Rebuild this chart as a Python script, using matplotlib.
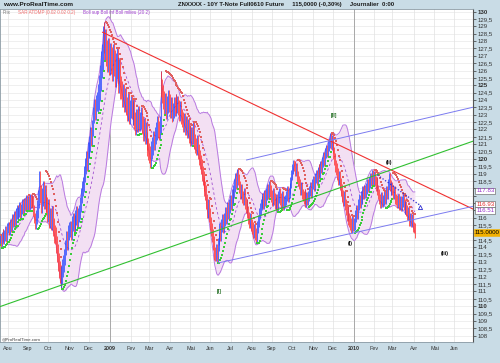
import numpy as np
import pandas as pd
import matplotlib
matplotlib.use("Agg")
import matplotlib.pyplot as plt
from matplotlib.transforms import blended_transform_factory

plt.rcParams['font.family'] = ['Liberation Sans', 'DejaVu Sans']

start_day = "2008-07-21"
axis_end = "2010-07-30"

# daily closes, one row per week (Mon..Fri)
closes = [
    114.5, 114.3, 114.7, 114.9, 114.6,
    114.8, 115.1, 114.7, 115.3, 115.4,
    115.2, 115.6, 115.4, 115.9, 115.7,
    116.1, 115.8, 116.3, 116.5, 116.2,
    116.4, 116.7, 116.3, 116.6, 116.9,
    116.6, 117.0, 116.8, 117.2, 116.9,
    117.1, 116.8, 117.3, 117.0, 117.2,
    117.1, 116.5, 116.0, 115.6, 116.2,
    116.6, 117.3, 118.6, 117.6, 116.9,
    117.4, 117.9, 117.2, 117.6, 117.0,
    116.8, 116.3, 116.7, 115.9, 116.1,
    115.8, 116.2, 115.4, 114.9, 114.8,
    114.2, 113.6, 113.0, 112.5, 112.2,
    111.8, 112.1, 112.6, 112.9, 113.3,
    114.0, 114.6, 114.3, 115.0, 115.2,
    115.3, 115.0, 115.6, 115.8, 115.5,
    115.7, 116.0, 116.3, 115.8, 116.2,
    116.4, 116.9, 117.5, 118.0, 118.3,
    119.0, 119.5, 120.0, 119.7, 120.6,
    120.6, 121.0, 121.6, 121.4, 122.1,
    123.0, 123.5, 123.2, 123.8, 124.0,
    124.2, 124.8, 125.5, 126.4, 126.9,
    128.1, 128.4, 127.6, 127.9, 127.2,
    126.8, 127.3, 126.6, 127.0, 126.7,
    126.2, 126.9, 126.5, 125.8, 126.3,
    126.6, 126.0, 125.4, 125.9, 125.0,
    124.7, 124.1, 124.5, 123.8, 124.2,
    123.6, 123.2, 123.9, 123.0, 123.4,
    123.7, 123.3, 122.9, 123.5, 122.6,
    122.2, 122.8, 122.4, 123.0, 122.5,
    122.6, 122.9, 122.3, 121.8, 122.2,
    121.6, 121.9, 121.2, 120.8, 120.5,
    120.3, 120.0, 120.6, 120.9, 121.3,
    121.2, 121.6, 121.9, 122.3, 122.0,
    121.9, 122.3, 125.4, 124.8, 124.4,
    124.0, 123.6, 123.9, 123.3, 123.7,
    124.1, 123.8, 123.4, 123.6, 123.1,
    123.3, 123.7, 123.4, 123.9, 123.6,
    123.8, 123.5, 123.1, 123.4, 122.9,
    122.7, 122.3, 122.6, 122.1, 122.4,
    121.9, 122.2, 121.6, 121.8, 121.4,
    121.7, 121.5, 122.0, 121.2, 120.9,
    120.8, 121.1, 120.5, 120.1, 119.8,
    119.5, 119.0, 118.7, 118.3, 118.0,
    117.7, 117.1, 116.5, 116.8, 116.2,
    115.6, 115.2, 114.8, 114.3, 113.6,
    113.5, 113.8, 113.4, 114.2, 114.6,
    115.2, 114.9, 115.5, 115.8, 115.4,
    115.9, 116.3, 116.0, 116.6, 116.4,
    116.8, 117.1, 117.0, 117.5, 117.4,
    117.8, 118.2, 118.6, 118.4, 118.9,
    118.6, 118.1, 117.7, 117.9, 117.4,
    117.3, 117.6, 117.0, 116.7, 116.9,
    116.4, 116.0, 115.7, 115.9, 115.5,
    115.3, 115.0, 115.2, 114.9, 114.7,
    115.4, 115.8, 116.3, 116.6, 116.9,
    117.1, 117.3, 117.0, 117.5, 117.2,
    117.6, 117.9, 117.7, 118.1, 117.8,
    117.5, 117.2, 117.6, 117.3, 117.0,
    116.9, 117.2, 116.8, 117.4, 117.6,
    117.3, 117.0, 117.4, 116.9, 117.1,
    117.2, 117.5, 117.8, 117.4, 117.7,
    118.0, 118.4, 118.9, 119.3, 119.6,
    119.5, 119.2, 119.4, 118.8, 118.5,
    118.3, 117.9, 118.1, 117.6, 117.5,
    117.3, 117.6, 117.1, 117.4, 117.2,
    117.5, 117.8, 118.1, 117.7, 118.3,
    118.5, 118.2, 118.7, 118.9, 118.6,
    119.1, 119.3, 119.0, 119.5, 119.4,
    119.8, 120.1, 119.9, 120.4, 120.6,
    120.5, 120.9, 121.1, 121.4, 121.0,
    121.2, 120.8, 120.4, 120.0, 119.5,
    119.3, 119.0, 118.6, 118.8, 118.3,
    117.9, 117.5, 117.2, 117.4, 116.9,
    116.6, 116.2, 116.4, 115.9, 115.8,
    115.6, 115.4, 115.7, 115.5, 115.6,
    116.1, 116.5, 116.3, 116.9, 117.2,
    117.0, 117.5, 117.3, 117.8, 117.6,
    117.9, 117.7, 118.0, 118.3, 118.1,
    118.4, 118.7, 118.5, 118.9, 118.6,
    118.8, 118.5, 118.2, 118.4, 117.9,
    117.6, 117.3, 117.0, 117.4, 117.1,
    117.2, 117.5, 117.3, 117.8, 117.6,
    118.3, 118.7, 118.2, 117.9, 118.1,
    117.9, 117.6, 117.8, 117.3, 117.2,
    117.0, 117.3, 116.9, 117.1, 116.8,
    117.1, 117.3, 116.9, 116.6, 116.8,
    116.5, 116.2, 116.4, 115.8, 116.0,
    115.7, 115.9, 115.4, 115.3, 115.0,
]

# how far bars poke out past open/close, one value per week (points)
bar_ext = [
    0.35, 0.35, 0.35, 0.35, 0.35, 0.35, 0.35, 0.35,
    0.6, 0.6, 0.6, 0.6, 0.6, 0.6,
    0.5, 0.5, 0.5, 0.5,
    0.55, 0.55, 0.55,
    0.9, 0.9, 0.9, 0.9, 0.9,
    0.6, 0.6, 0.6, 0.6, 0.6, 0.6, 0.6, 0.6,
    0.6, 0.6, 0.6,
    0.5, 0.5, 0.5, 0.5, 0.5, 0.5, 0.5, 0.5,
    0.45, 0.45, 0.45, 0.45, 0.45, 0.45,
    0.4, 0.4, 0.4, 0.4, 0.4, 0.4, 0.4, 0.4, 0.4, 0.4,
    0.35, 0.35, 0.35, 0.35, 0.35, 0.35, 0.35, 0.35, 0.35, 0.35,
    0.4, 0.4, 0.4, 0.4, 0.4, 0.4,
    0.35, 0.35, 0.35, 0.35, 0.35, 0.35, 0.35, 0.35, 0.35, 0.35, 0.35, 0.35,
]

# hand drawn lines: (date, price) pairs
red_line = [("2008-12-22", 128.6), ("2010-02-23", 119.33)]
green_line = [("2008-10-20", 111.41), ("2009-12-01", 117.87)]
chan_top = [("2009-07-24", 119.93), ("2009-12-01", 121.29)]
chan_bottom = [("2009-06-12", 112.94), ("2010-01-04", 115.0)]
blue_dots = [("2010-02-05", 118.91), ("2010-04-09", 116.88)]

wave_labels = [("[I]", "2009-06-15", 110.97, "#1d6b1d"),
               ("[II]", "2009-12-02", 122.92, "#1d6b1d"),
               ("(i)", "2009-12-28", 114.23, "black"),
               ("(ii)", "2010-02-23", 119.73, "black"),
               ("(iii)", "2010-05-18", 113.55, "black")]

# values printed at the right edge
boll_sup_last = 117.83
sar_last = 116.93
boll_mid_last = 116.51
# axis labels hidden behind those boxes
hidden_ticks = [118.0, 117.5, 117.0, 116.5, 115.0]

fr_months = ["Jan", "Fev", "Mar", "Avr", "Mai", "Jun", "Jul", "Aou", "Sep", "Oct", "Nov", "Dec"]

axis_days = pd.bdate_range(start_day, axis_end)
def pos(d):
    return axis_days.get_loc(pd.Timestamp(d))

close = np.array(closes)
n = len(close)
x = np.arange(n)
opn = np.r_[close[0], close[:-1]]
ext = np.repeat(bar_ext, 5)[:n]
high = np.maximum(opn, close) + ext
low = np.minimum(opn, close) - ext

# bollinger 20 / 2
s = pd.Series(close)
mid = s.rolling(20, min_periods=10).mean()
sd = s.rolling(20, min_periods=10).std(ddof=0)
bb_up = mid + 2 * sd
bb_dn = mid - 2 * sd

# parabolic SAR 0.02 / 0.02 / 0.2
def psar(hi, lo, step=0.02, amax=0.2):
    out = np.zeros(len(hi))
    trend = np.zeros(len(hi), bool)
    up = True
    af = step
    ep = hi[0]
    out[0] = lo[0]
    trend[0] = True
    for i in range(1, len(hi)):
        v = out[i - 1] + af * (ep - out[i - 1])
        if up:
            v = min(v, lo[i - 1], lo[max(i - 2, 0)])
            if lo[i] < v:
                up = False
                v = ep
                ep = lo[i]
                af = step
            elif hi[i] > ep:
                ep = hi[i]
                af = min(af + step, amax)
        else:
            v = max(v, hi[i - 1], hi[max(i - 2, 0)])
            if hi[i] > v:
                up = True
                v = ep
                ep = hi[i]
                af = step
            elif lo[i] < ep:
                ep = lo[i]
                af = min(af + step, amax)
        out[i] = v
        trend[i] = up
    return out, trend

sar, sar_up = psar(high, low)

fig = plt.figure(figsize=(5.0, 3.63), dpi=100, facecolor="#c9dce6")
ax = fig.add_axes([0.0, 20.7 / 363, 473.3 / 500, 333.3 / 363])
ax.set_facecolor("white")

# pixel layout of the time axis
i09, i10 = pos("2009-01-02"), pos("2010-01-04")
ppb = (355 - 111) / (i10 - i09)
x0 = i09 - 111 / ppb
ax.set_xlim(x0, x0 + 473.3 / ppb)
ax.set_ylim(107.55, 130.18)

yt = np.arange(108, 130.01, 0.5)
for v in yt:
    ax.axhline(v, color="#e9e9e9", lw=0.5, zorder=0)

month_starts = pd.date_range("2008-08-01", "2010-06-01", freq="MS")
mpos = [axis_days.searchsorted(m) for m in month_starts]
mlab = []
for m, p in zip(month_starts, mpos):
    if m.month == 1:
        mlab.append(str(m.year))
        ax.axvline(p, color="#a8a8a8", lw=0.7, zorder=0)
    else:
        mlab.append(fr_months[m.month - 1])
        ax.axvline(p, color="#e2e2e2", lw=0.5, zorder=0)

ax.fill_between(x, bb_dn, bb_up, color="#f3e0f3", lw=0, zorder=1)
ax.plot(x, bb_up, color="#b87ae0", lw=0.7, zorder=2)
ax.plot(x, bb_dn, color="#b87ae0", lw=0.7, zorder=2)
ax.plot(x, mid, color="#a050d0", lw=0.6, ls=(0, (3, 3)), zorder=2)

cols = np.where(close >= opn, "#2a48ff", "#ff3030")
ax.vlines(x, low, high, colors=cols, lw=0.55, zorder=3)

ax.scatter(x[sar_up], sar[sar_up], s=2.2, marker="s", color="#3ccc3c", lw=0, zorder=4)
ax.scatter(x[~sar_up], sar[~sar_up], s=2.2, marker="s", color="#e06060", lw=0, zorder=4)

xr = ax.get_xlim()[1]
(d1, p1), (d2, p2) = red_line
k = (p2 - p1) / (pos(d2) - pos(d1))
ax.plot([pos(d1), xr], [p1, p1 + k * (xr - pos(d1))], color="#f03030", lw=0.8, zorder=5)

(d1, p1), (d2, p2) = green_line
ax.axline((pos(d1), p1), (pos(d2), p2), color="#30c030", lw=0.8, zorder=5)

for line in (chan_top, chan_bottom):
    (d1, p1), (d2, p2) = line
    k = (p2 - p1) / (pos(d2) - pos(d1))
    ax.plot([pos(d1), xr], [p1, p1 + k * (xr - pos(d1))], color="#7b7bf0", lw=0.7, zorder=5)

(d1, p1), (d2, p2) = blue_dots
ax.plot([pos(d1), pos(d2)], [p1, p2], color="#2a2ad0", lw=0.9, ls=(0, (1, 1.5)), zorder=5)
ax.plot(pos(d2) + 1, p2 - 0.15, marker="^", ms=3, mfc="none", mec="#2a2ad0", mew=0.6, zorder=5)

for txt, d, p, c in wave_labels:
    ax.text(pos(d), p, txt, color=c, fontsize=3.8, fontweight="bold", ha="center", va="center", zorder=6)

# axes styling
ax.yaxis.tick_right()
ax.set_yticks(yt)
ax.set_yticklabels(["" if v in hidden_ticks else ("%g" % v).replace(".", ",") for v in yt])
for lab, v in zip(ax.get_yticklabels(), yt):
    if v % 5 == 0:
        lab.set_fontweight("bold")
ax.tick_params(axis="y", direction="out", length=2, width=0.5, pad=1, labelsize=4.4, colors="#333333")
ax.set_xticks(mpos)
ax.set_xticklabels(mlab)
for lab, m in zip(ax.get_xticklabels(), month_starts):
    if m.month == 1:
        lab.set_fontweight("bold")
ax.tick_params(axis="x", length=0, pad=2.5, labelsize=3.9, colors="#333333")
for side in ("left", "top", "bottom"):
    ax.spines[side].set_color("#8a9aa4")
    ax.spines[side].set_linewidth(0.6)
ax.spines["right"].set_color("#555555")
ax.spines["right"].set_linewidth(0.8)

tr = blended_transform_factory(ax.transAxes, ax.transData)
for v, c in ((boll_sup_last, "#9933cc"), (sar_last, "#e03030"), (boll_mid_last, "#9933cc")):
    ax.text(1.006, v, "%.2f" % v, transform=tr, fontsize=4.4, color=c, ha="left", va="center",
            clip_on=False, zorder=7,
            bbox=dict(boxstyle="square,pad=0.12", fc="white", ec="#555555", lw=0.4))
ax.text(1.003, close[-1], "%.4f" % close[-1], transform=tr, fontsize=4.4, color="black",
        ha="left", va="center", clip_on=False, zorder=7,
        bbox=dict(boxstyle="square,pad=0.12", fc="#f2b000", ec="#f2b000", lw=0.4))

# header and legend texts
W, H = 500.0, 363.0
fig.text(3 / W, 1 - 4.7 / H, "www.ProRealTime.com", fontsize=4.6, fontweight="bold", color="#1a1a1a", va="center")
fig.text(178 / W, 1 - 4.7 / H, "ZNXXXX - 10Y T-Note Full0610 Future     115,0000 (-0,30%)     Journalier  0:00",
         fontsize=4.3, fontweight="bold", color="#1a1a1a", va="center")
fig.text(3 / W, 1 - 12.5 / H, "Prix", fontsize=3.3, color="#777777", va="center")
fig.text(18 / W, 1 - 12.5 / H, "SAR ATDMP (0.02 0.02 0.2)", fontsize=3.3, color="#f07070", va="center")
fig.text(83 / W, 1 - 12.5 / H, "Boll sup Boll inf Boll milieu (20 2)", fontsize=3.3, color="#a040d0", va="center")
fig.text(2 / W, 1 - 339 / H, "@ProRealTime.com", fontsize=3.2, color="#444444", va="center")

fig.savefig("out.png", dpi=100, facecolor=fig.get_facecolor())
